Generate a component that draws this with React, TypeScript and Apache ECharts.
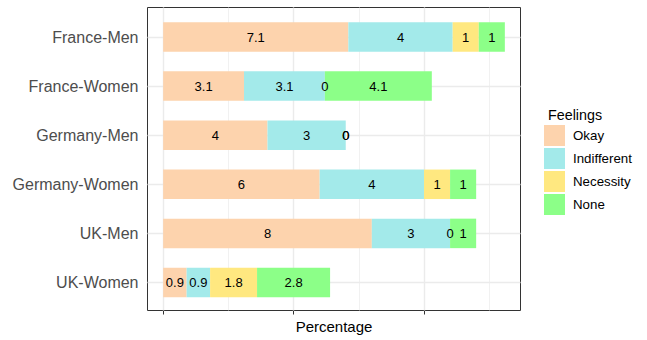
import React, { useEffect, useRef } from "react";
import * as echarts from "echarts";

const categories = ["France-Men", "France-Women", "Germany-Men", "Germany-Women", "UK-Men", "UK-Women"];
const feelings = ["Okay", "Indifferent", "Necessity", "None"];
const okay = [7.1, 3.1, 4, 6, 8, 0.9];
const indifferent = [4, 3.1, 3, 4, 3, 0.9];
const necessity = [1, 0, 0, 1, 0, 1.8];
const none = [1, 4.1, 0, 1, 1, 2.8];
const colors = ["#FDD3AD", "#A3EAEA", "#FFE880", "#8CFF88"];
const majorTicks = [0, 5, 10];
const minorTicks = [2.5, 7.5, 12.5];

const FONT = "'Liberation Sans', Arial, Helvetica, sans-serif";

export default function App() {
  const ref = useRef<HTMLDivElement>(null);
  useEffect(() => {
    if (!ref.current) return;
    const chart = echarts.init(ref.current, null, { renderer: "svg" });
    const seriesData = [okay, indifferent, necessity, none];
    const panel = { left: 147.5, top: 7.5, width: 373, height: 303 };
    const bandTop = 12.45;
    const bandH = 294.6;
    const xMin = -0.6;
    const xMax = 13.7;

    const barSeries = feelings.map((name, i) => ({
      name,
      type: "bar",
      stack: "total",
      xAxisIndex: 1,
      yAxisIndex: 1,
      barWidth: 29.5,
      itemStyle: { color: colors[i] },
      label: {
        show: true,
        position: "inside",
        color: "#000000",
        fontSize: 13,
        fontFamily: FONT,
        formatter: (p: any) => String(p.value),
      },
      z: 5,
      data: seriesData[i],
    }));

    chart.setOption({
      animation: false,
      textStyle: { fontFamily: FONT },
      title: {
        text: "Feelings",
        left: 543,
        top: 103,
        textStyle: { fontSize: 14.3, fontWeight: "normal", color: "#000000", fontFamily: FONT },
      },
      legend: {
        data: feelings,
        orient: "vertical",
        left: 544,
        top: 125,
        icon: "rect",
        itemWidth: 21,
        itemHeight: 21,
        itemGap: 2,
        padding: 0,
        selectedMode: false,
        textStyle: { fontSize: 13.3, color: "#000000", fontFamily: FONT, padding: [0, 0, 0, 3] },
      },
      grid: [
        {
          ...panel,
          show: true,
          backgroundColor: "#FFFFFF",
          borderColor: "#333333",
          borderWidth: 1,
        },
        { left: panel.left, width: panel.width, top: bandTop, height: bandH },
      ],
      xAxis: [
        {
          type: "value",
          gridIndex: 0,
          min: xMin,
          max: xMax,
          axisLine: { show: false },
          splitLine: { show: false },
          axisTick: { show: true, customValues: majorTicks, length: 4, lineStyle: { color: "#333333", width: 1 } },
          axisLabel: { show: false },
          name: "Percentage",
          nameLocation: "middle",
          nameGap: 8,
          nameTextStyle: { fontSize: 15, color: "#000000", fontFamily: FONT, verticalAlign: "top" },
        },
        {
          type: "value",
          gridIndex: 1,
          min: xMin,
          max: xMax,
          show: false,
        },
      ],
      yAxis: [
        { type: "value", gridIndex: 0, min: 0, max: 1, show: false },
        {
          type: "category",
          gridIndex: 1,
          inverse: true,
          data: categories,
          axisLine: { show: false },
          axisTick: { show: true, alignWithLabel: true, length: 4, lineStyle: { color: "#333333", width: 1 } },
          axisLabel: { color: "#4D4D4D", fontSize: 16, margin: 9, fontFamily: FONT },
          splitLine: { show: false },
        },
      ],
      series: [
        {
          type: "scatter",
          xAxisIndex: 0,
          yAxisIndex: 0,
          data: [],
          silent: true,
          z: 1,
          markLine: {
            silent: true,
            symbol: "none",
            label: { show: false },
            animation: false,
            data: [
              ...majorTicks.map((v) => ({ xAxis: v, lineStyle: { color: "#EBEBEB", width: 1.4, type: "solid" } })),
              ...minorTicks.map((v) => ({ xAxis: v, lineStyle: { color: "#EBEBEB", width: 0.7, type: "solid" } })),
            ],
          },
        },
        {
          type: "scatter",
          xAxisIndex: 1,
          yAxisIndex: 1,
          data: [],
          silent: true,
          z: 1,
          markLine: {
            silent: true,
            symbol: "none",
            label: { show: false },
            animation: false,
            data: categories.map((c) => ({ yAxis: c, lineStyle: { color: "#EBEBEB", width: 1.4, type: "solid" } })),
          },
        },
        ...barSeries,
      ],
    });
    return () => chart.dispose();
  }, []);
  return (
    <div
      ref={ref}
      style={{ position: "fixed", left: 0, top: 0, width: 647, height: 340, background: "#FFFFFF" }}
    />
  );
}
